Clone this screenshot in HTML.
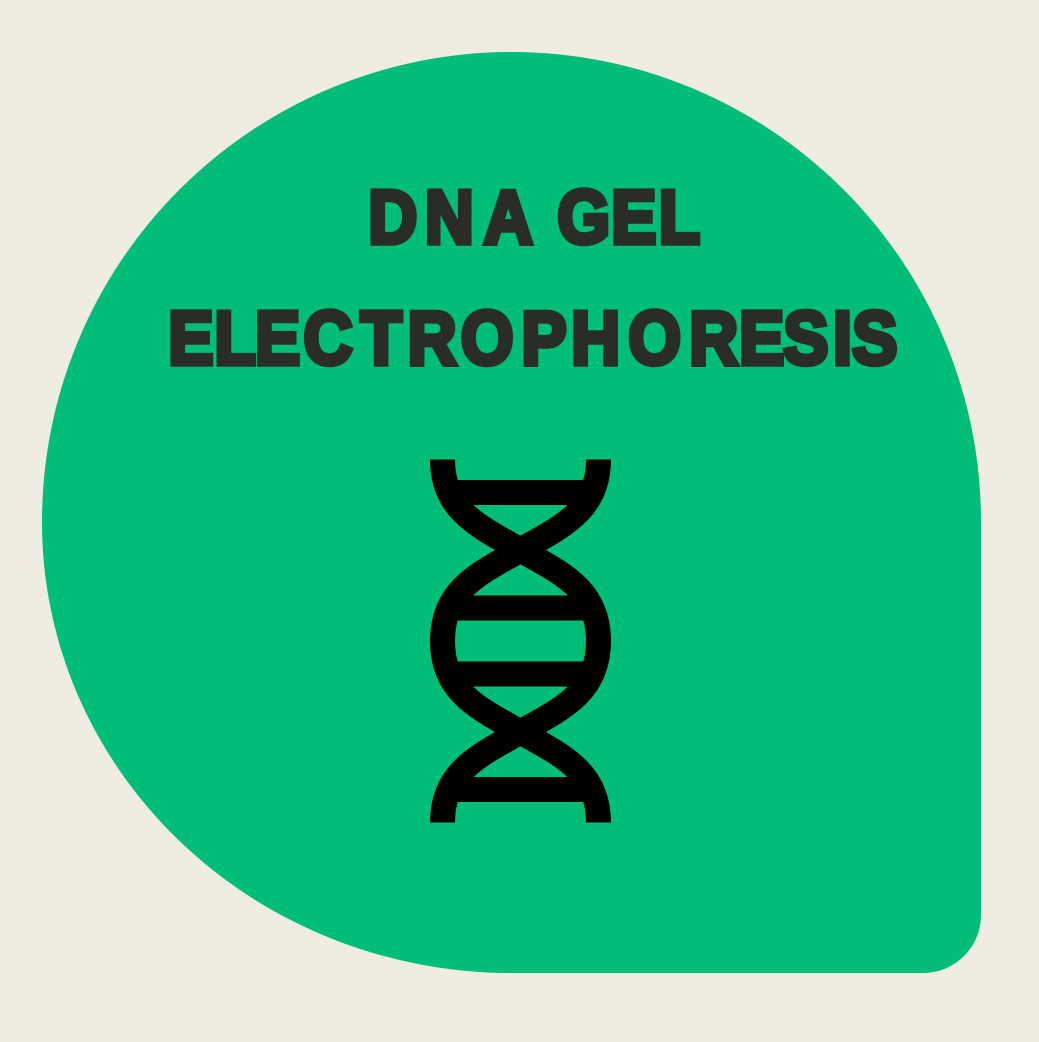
<!DOCTYPE html>
<html lang="en">
<head>
<meta charset="utf-8">
<title>DNA Gel Electrophoresis</title>
<style>
html,body{margin:0;padding:0;width:1039px;height:1042px;overflow:hidden;background:#efece1}
svg{display:block;position:absolute;left:0;top:0}
#badge{position:absolute;left:42px;top:52px;width:939px;height:921px;background:#00bd77;
border-radius:470px 470px 58px 470px / 470px 470px 58px 451px}
</style>
</head>
<body>
<div id="badge"></div>
<svg width="1039" height="1042" viewBox="0 0 1039 1042">
  <g transform="scale(0.9,1)" font-family="'Liberation Sans', sans-serif" font-weight="700" font-size="75" fill="#292c27" stroke="#292c27" stroke-width="5.5" stroke-linejoin="miter">
    <text x="409.3 472.1 537.6 600 619.5 679.2 732" y="243">DNA GEL</text>
    <text x="187.1 238.4 283.4 337.4 400.6 453 512.1 579.5 634.7 698.2 765.8 821.2 870.3 925.6 947" y="364">ELECTROPHORESIS</text>
  </g>
  <g fill="none" stroke="#000" stroke-width="25">
    <path d="M442.5 459.5C442.5 510 478 526 520.5 550C563 574 598.5 590 598.5 641C598.5 692 563 708 520.5 732C478 756 442.5 772 442.5 822.5"/>
    <path d="M598.5 459.5C598.5 510 563 526 520.5 550C478 574 442.5 590 442.5 641C442.5 692 478 708 520.5 732C563 756 598.5 772 598.5 822.5"/>
    <path d="M452 492.5H589"/>
    <path d="M452 608H589"/>
    <path d="M452 674H589"/>
    <path d="M452 789.5H589"/>
  </g>
</svg>
</body>
</html>
